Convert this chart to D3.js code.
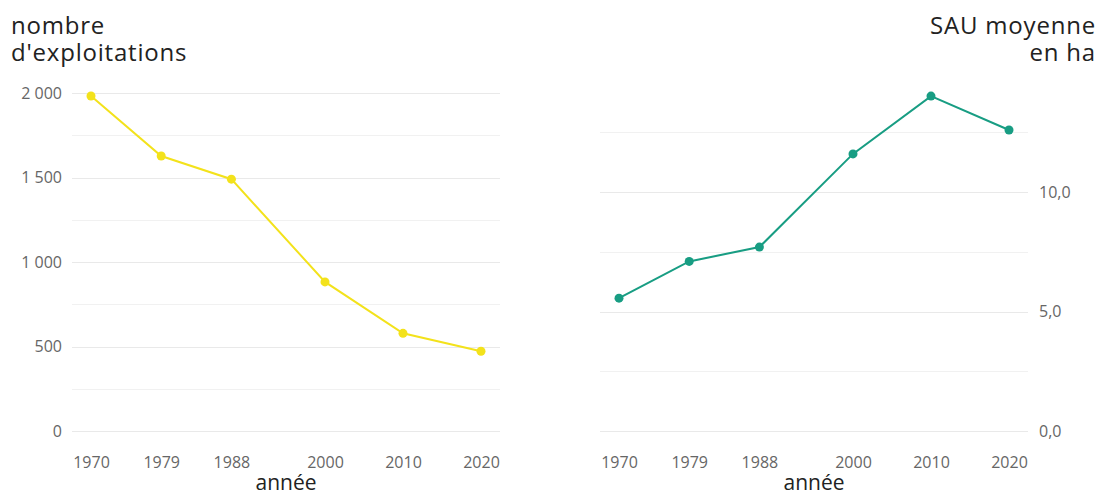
<!DOCTYPE html>
<html>
<head>
<meta charset="utf-8">
<script src="https://cdn.jsdelivr.net/npm/d3@7"></script>
<style>
  html, body { margin: 0; padding: 0; background: #fff; }
  svg { display: block; font-family: "Open Sans", sans-serif; }
</style>
</head>
<body>
<div id="wrapper"></div>
<script>
// data
const years = [1970, 1979, 1988, 2000, 2010, 2020];
const exploitations = [1982, 1627, 1490, 882, 578, 472];
const sauMoyenne = [5.56, 7.1, 7.7, 11.6, 14.02, 12.6];
const exploitationTicks = [0, 250, 500, 750, 1000, 1250, 1500, 1750, 2000];
const sauTicks = [0, 2.5, 5, 7.5, 10, 12.5];

const fr = d3.formatLocale({ decimal: ",", thousands: " ", grouping: [3], currency: ["", " €"] });
const fmtInt = fr.format(",d");
const fmtDec = fr.format(".1f");

const dimensions = {
    width: 1099,
    height: 496,
    top: 93,
    bottom: 431,
    pad: 19
};

const wrapper = d3.select('#wrapper')
    .append('svg')
    .attr('width', dimensions.width)
    .attr('height', dimensions.height);

function panel(opts) {
    const g = wrapper.append('g')
        .attr('transform', `translate(${opts.x0},0)`);
    const w = opts.x1 - opts.x0;

    const xScale = d3.scaleLinear()
        .domain(d3.extent(years))
        .range([dimensions.pad, w - dimensions.pad]);

    const yScale = d3.scaleLinear()
        .domain(opts.domain)
        .range([dimensions.bottom, dimensions.top]);

    // gridlines
    g.append('g')
        .selectAll('line')
        .data(opts.ticks)
        .join('line')
        .attr('x1', 0)
        .attr('x2', w)
        .attr('y1', d => Math.round(yScale(d)) + 0.5)
        .attr('y2', d => Math.round(yScale(d)) + 0.5)
        .attr('stroke', (d, i) => i % 2 === 0 ? '#e9e9e9' : '#f1f1f1')
        .attr('stroke-width', 1);

    // y labels
    g.append('g')
        .selectAll('text')
        .data(opts.ticks.filter((d, i) => i % 2 === 0))
        .join('text')
        .attr('x', opts.labelRight ? w + 11 : -10)
        .attr('y', d => yScale(d))
        .attr('dy', '0.35em')
        .attr('text-anchor', opts.labelRight ? 'start' : 'end')
        .attr('fill', '#666')
        .style('font-size', '16px')
        .text(opts.format);

    // x axis
    const xAxis = d3.axisBottom(xScale)
        .tickValues(years)
        .tickFormat(d3.format('d'))
        .tickSize(0)
        .tickPadding(0);

    const xg = g.append('g')
        .attr('transform', `translate(0,${dimensions.bottom + 26})`)
        .call(xAxis);
    xg.select('.domain').remove();
    xg.selectAll('text')
        .attr('fill', '#666')
        .style('font-size', '16px')
        .style('font-family', '"Open Sans", sans-serif');

    g.append('text')
        .attr('x', w / 2)
        .attr('y', 490)
        .attr('text-anchor', 'middle')
        .attr('fill', '#222')
        .style('font-size', '21px')
        .text('année');

    const line = d3.line()
        .x((d, i) => xScale(years[i]))
        .y(d => yScale(d));

    g.append('path')
        .datum(opts.values)
        .attr('d', line)
        .attr('fill', 'none')
        .attr('stroke', opts.color)
        .attr('stroke-width', 2);

    g.append('g')
        .selectAll('circle')
        .data(opts.values)
        .join('circle')
        .attr('cx', (d, i) => xScale(years[i]))
        .attr('cy', d => yScale(d))
        .attr('r', 4.5)
        .attr('fill', opts.color);
}

panel({
    x0: 72, x1: 500,
    domain: [0, 2000],
    ticks: exploitationTicks,
    values: exploitations,
    format: fmtInt,
    color: '#f3e21b',
    labelRight: false
});

panel({
    x0: 600, x1: 1028,
    domain: [0, 14.15],
    ticks: sauTicks,
    values: sauMoyenne,
    format: fmtDec,
    color: '#189d83',
    labelRight: true
});

// titles
const titleLeft = wrapper.append('text')
    .attr('x', 11)
    .attr('y', 34)
    .attr('fill', '#222')
    .style('font-size', '24px')
    .style('letter-spacing', '0.8px');
titleLeft.append('tspan').attr('x', 11).text('nombre');
titleLeft.append('tspan').attr('x', 11).attr('dy', 27).text("d'exploitations");

const titleRight = wrapper.append('text')
    .attr('x', 1096)
    .attr('y', 34)
    .attr('text-anchor', 'end')
    .attr('fill', '#222')
    .style('font-size', '24px')
    .style('letter-spacing', '0.8px');
titleRight.append('tspan').attr('x', 1096).text('SAU moyenne');
titleRight.append('tspan').attr('x', 1096).attr('dy', 27).text('en ha');
</script>
</body>
</html>
